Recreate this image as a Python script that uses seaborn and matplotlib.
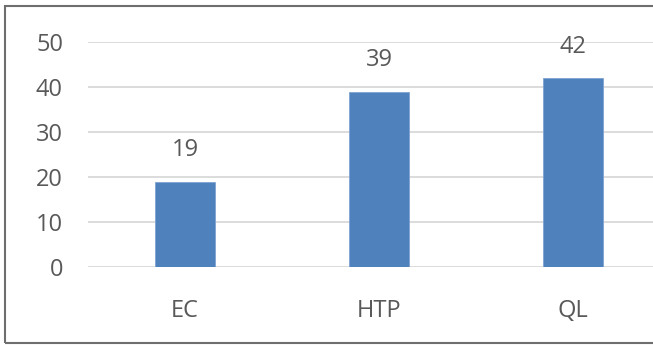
import pandas as pd
import seaborn as sns
import matplotlib.pyplot as plt
from matplotlib.patches import Rectangle

# Chart data
categories = ['EC', 'HTP', 'QL']
values = [19, 39, 42]
y_ticks = [0, 10, 20, 30, 40, 50]

df = pd.DataFrame({'Category': categories, 'Value': values})

sns.set_theme(style='white')
plt.rcParams['font.family'] = ['Open Sans', 'DejaVu Sans']

text_color = '#595959'
fig = plt.figure(figsize=(6.53, 3.45), dpi=100)
fig.patch.set_facecolor('white')

# Axes placed to match the reference (chart is cropped on the right)
W, H = 653, 345
ax = fig.add_axes([88 / W, (H - 267) / H, (W - 88) / W, (267 - 42) / H])

sns.barplot(data=df, x='Category', y='Value', color='#4F81BD', saturation=1,
            width=0.31, edgecolor='#7FA3D3', linewidth=0.6, ax=ax, zorder=3)

ax.set_ylim(0, 50)
ax.set_xlim(-0.5, (W - 88) / 194 - 0.5)
ax.set_yticks(y_ticks)
ax.grid(axis='y', color='#D9D9D9', linewidth=1.3, zorder=0)
ax.set_axisbelow(True)
for s in ax.spines.values():
    s.set_visible(False)

ax.tick_params(axis='y', length=0, pad=18, labelsize=17, labelcolor=text_color)
ax.tick_params(axis='x', length=0, pad=23, labelsize=17, labelcolor=text_color)
ax.set_xlabel('')
ax.set_ylabel('')

# Data labels
for c in ax.containers:
    ax.bar_label(c, labels=[str(v) for v in values], padding=14,
                 fontsize=17, color=text_color)

# Outer chart border
fig.patches.append(Rectangle((5 / W, 2.5 / H), 1.0, (H - 8.5) / H,
                             transform=fig.transFigure, fill=False,
                             edgecolor='#6E6E6E', linewidth=1.5))

fig.savefig('out.png', dpi=100)
